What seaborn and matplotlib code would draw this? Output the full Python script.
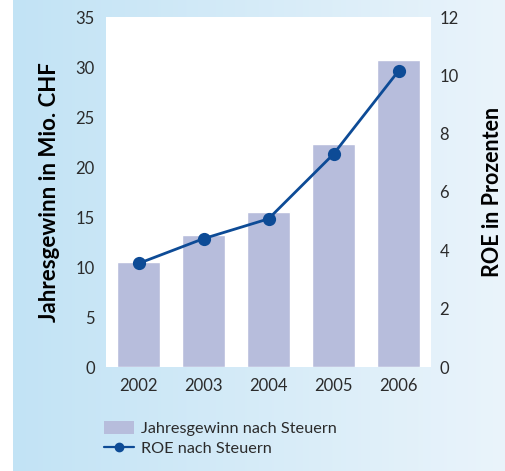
import numpy as np
import matplotlib
matplotlib.use("Agg")
import matplotlib.pyplot as plt
from matplotlib.lines import Line2D
from matplotlib.patches import Patch
import seaborn as sns

# data
years = ["2002", "2003", "2004", "2005", "2006"]
gewinn = [10.5, 13.2, 15.5, 22.3, 30.7]   # Mio. CHF
roe = [3.55, 4.4, 5.08, 7.3, 10.15]        # Prozent

bar_color = "#b7bddc"
line_color = "#0d4b96"
text_color = "#2b2b2b"

sns.set_theme(style="white")
plt.rcParams["font.family"] = ["Lato", "DejaVu Sans"]

fig = plt.figure(figsize=(5.06, 4.71), dpi=100)
fig.patch.set_facecolor("white")

# gradient background panel
bg = fig.add_axes([13 / 506, 0, 1 - 13 / 506, 1])
left = np.array([194, 227, 245]) / 255
right = np.array([234, 244, 251]) / 255
t = np.linspace(0, 1, 256)[None, :, None]
grad = left + (right - left) * t
bg.imshow(grad, aspect="auto", extent=[0, 1, 0, 1])
bg.set_axis_off()

ax = fig.add_axes([106 / 506, (471 - 367) / 471, 325 / 506, 350 / 471])
ax.set_facecolor("white")
sns.barplot(x=years, y=gewinn, color=bar_color, saturation=1, width=0.66, ax=ax)
ax.set_ylim(0, 35)
ax.set_xlim(-0.5, 4.5)
ax.set_yticks(range(0, 36, 5))
ax.set_xlabel("")
ax.set_ylabel("Jahresgewinn in Mio. CHF", fontsize=16, fontweight="bold",
              color="black", labelpad=11)
ax.tick_params(axis="both", length=0, labelsize=12, labelcolor=text_color)
ax.tick_params(axis="y", pad=8)
ax.tick_params(axis="x", pad=8)

ax2 = ax.twinx()
sns.pointplot(x=years, y=roe, color=line_color, markers="o", markersize=8,
              linewidth=2, ax=ax2)
ax2.set_ylim(0, 12)
ax2.set_xlim(-0.5, 4.5)
ax2.set_yticks(range(0, 13, 2))
ax2.set_ylabel("ROE in Prozenten", fontsize=15.5, fontweight="bold",
               color="black", labelpad=17)
ax2.tick_params(axis="y", length=0, labelsize=12, labelcolor=text_color, pad=6)

for a in (ax, ax2):
    for s in a.spines.values():
        s.set_visible(False)

handles = [
    Patch(facecolor=bar_color, edgecolor="none", label="Jahresgewinn nach Steuern"),
    Line2D([0], [0], color=line_color, lw=1.6, marker="o", markersize=6,
           label="ROE nach Steuern"),
]
fig.legend(handles=handles, loc="upper left", bbox_to_anchor=(89 / 506, 1 - 406 / 471),
           frameon=False, fontsize=11.7, labelcolor=text_color, handlelength=1.85,
           handleheight=0.9, handletextpad=0.45, labelspacing=0.3)

fig.savefig("out.png", dpi=100)
